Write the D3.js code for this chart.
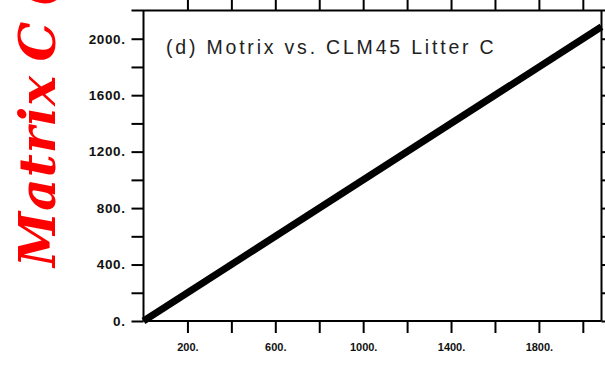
<!DOCTYPE html>
<html>
<head>
<meta charset="utf-8">
<script src="https://cdn.jsdelivr.net/npm/d3@7"></script>
<style>
  html, body { margin: 0; padding: 0; background: #fff; }
  svg { display: block; }
</style>
</head>
<body>
<div id="chart"></div>
<script>
"use strict";

// data
const lineX = [0, 2085];
const lineY = [0, 2085];
const xTicks = [200, 400, 600, 800, 1000, 1200, 1400, 1600, 1800, 2000];
const xLabels = [200, 600, 1000, 1400, 1800];
const yTicks = [0, 200, 400, 600, 800, 1000, 1200, 1400, 1600, 1800, 2000];
const yLabels = [0, 400, 800, 1200, 1600, 2000];
const title = "(d) Motrix vs. CLM45 Litter C";
const yTitle = "Matrix C (gC m\u207B\u00B2)";

(function () {

const width = 605, height = 365;
const pLeft = 143.5, pRight = 601.5, pTop = 10.5, pBottom = 321;

const svg = d3.select("#chart").append("svg")
    .attr("width", width)
    .attr("height", height);

const x = d3.scaleLinear().domain([0, 2085]).range([pLeft, pRight]);
const y = d3.scaleLinear().domain([0, 2200]).range([pBottom, pTop]);

const fmt = d => d + ".";

// red y title, cut off at the top like the source figure
svg.append("text")
    .attr("transform", `translate(55,267) rotate(-90)`)
    .attr("font-family", "DejaVu Serif")
    .attr("font-style", "italic")
    .attr("font-weight", "bold")
    .attr("font-size", 50)
    .attr("letter-spacing", 1)
    .attr("word-spacing", -5)
    .attr("fill", "#ff0000")
    .text(yTitle);

// the 1:1 line
const line = d3.line()
    .x(d => x(d[0]))
    .y(d => y(d[1]));

svg.append("path")
    .datum(d3.zip(lineX, lineY))
    .attr("fill", "none")
    .attr("stroke", "#000")
    .attr("stroke-width", 7)
    .attr("d", line);

// axes, ticks outward on every side
const styleAxis = (g) => {
    g.select(".domain").remove();
    g.selectAll(".tick line").attr("stroke", "#000").attr("stroke-width", 2);
};

svg.append("g")
    .attr("transform", `translate(${pLeft},0)`)
    .call(d3.axisLeft(y).tickValues(yTicks).tickSize(12).tickPadding(6)
        .tickFormat(d => yLabels.includes(d) ? fmt(d) : ""))
    .call(styleAxis)
    .call(g => g.selectAll("text")
        .attr("font-family", "Liberation Sans")
        .attr("font-weight", "bold")
        .attr("font-size", 13.5)
        .attr("letter-spacing", 0.6)
        .attr("fill", "#111"));

svg.append("g")
    .attr("transform", `translate(${pRight},0)`)
    .call(d3.axisRight(y).tickValues(yTicks).tickSize(12).tickFormat(""))
    .call(styleAxis);

svg.append("g")
    .attr("transform", `translate(0,${pBottom})`)
    .call(d3.axisBottom(x).tickValues(xTicks).tickSize(12).tickPadding(10)
        .tickFormat(d => xLabels.includes(d) ? fmt(d) : ""))
    .call(styleAxis)
    .call(g => g.selectAll("text")
        .attr("font-family", "Liberation Sans")
        .attr("font-weight", "bold")
        .attr("font-size", 11)
        .attr("fill", "#111"));

svg.append("g")
    .attr("transform", `translate(0,${pTop})`)
    .call(d3.axisTop(x).tickValues(xTicks).tickSize(12).tickFormat(""))
    .call(styleAxis);

// frame
const frame = [
    [131.5, pTop, width, pTop],
    [pLeft, pTop, pLeft, pBottom],
    [pRight, pTop, pRight, pBottom],
    [pLeft, pBottom, pRight, pBottom],
];
svg.selectAll("line.frame")
    .data(frame)
    .enter().append("line")
    .attr("class", "frame")
    .attr("x1", d => d[0]).attr("y1", d => d[1])
    .attr("x2", d => d[2]).attr("y2", d => d[3])
    .attr("stroke", "#000").attr("stroke-width", 2);

// panel title
svg.append("text")
    .attr("x", 166)
    .attr("y", 54)
    .attr("font-family", "Liberation Sans")
    .attr("font-size", 19.5)
    .attr("letter-spacing", 2.8)
    .attr("fill", "#222")
    .text(title);

})();
</script>
</body>
</html>
